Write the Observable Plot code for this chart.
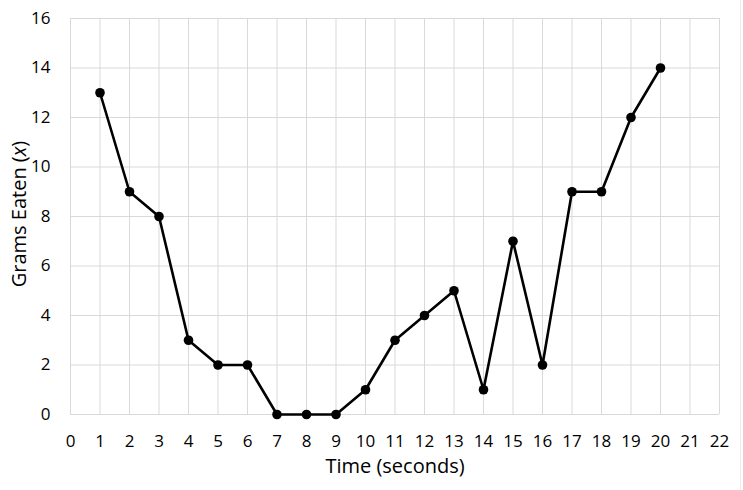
<!DOCTYPE html>
<html><head><meta charset="utf-8">
<script src="https://cdn.jsdelivr.net/npm/d3@7"></script>
<script src="https://cdn.jsdelivr.net/npm/@observablehq/plot@0.6"></script>
<style>
body{margin:0;background:#fff;}
#chart svg{font-family:"Open Sans",sans-serif;}
#chart svg g[aria-label$="tick label"]{font-size:17px;}
</style></head><body><div id="chart"></div>
<script>
const times = [1,2,3,4,5,6,7,8,9,10,11,12,13,14,15,16,17,18,19,20];
const grams = [13,9,8,3,2,2,0,0,0,1,3,4,5,1,7,2,9,9,12,14];
const xTicks = d3.range(0,23);
const yTicks = [0,2,4,6,8,10,12,14,16];
const data = times.map((t,i)=>({t, g: grams[i]}));

const plot = Plot.plot({
  width: 743, height: 490,
  marginLeft: 70, marginRight: 24, marginTop: 18, marginBottom: 76,
  style: {fontSize: "17px", fontFamily: "'Open Sans', sans-serif", color: "#000"},
  x: {domain: [0,22], ticks: xTicks, tickSize: 0, tickPadding: 20, label: null},
  y: {domain: [0,16], ticks: yTicks, tickSize: 0, tickPadding: 20, label: null},
  marks: [
    Plot.gridX(xTicks, {stroke: "#d9d9d9", strokeOpacity: 1, strokeWidth: 1}),
    Plot.gridY(yTicks, {stroke: "#d9d9d9", strokeOpacity: 1, strokeWidth: 1}),
    Plot.line(data, {x: "t", y: "g", stroke: "#000", strokeWidth: 2.6}),
    Plot.dot(data, {x: "t", y: "g", fill: "#000", r: 4.8})
  ]
});
document.getElementById("chart").appendChild(plot);
const svg = d3.select(plot);
svg.append("line").attr("x1",740.5).attr("x2",740.5).attr("y1",0).attr("y2",490)
  .attr("stroke","#ececec").attr("stroke-width",1);
svg.append("text").attr("x", 395).attr("y", 473).attr("text-anchor","middle")
  .style("font-size","20px").attr("fill","#000").text("Time (seconds)");
const yl = svg.append("text").attr("transform","translate(26,214) rotate(-90)")
  .attr("text-anchor","middle").style("font-size","20px").attr("fill","#000");
yl.append("tspan").text("Grams Eaten (");
yl.append("tspan").style("font-style","italic").text("x");
yl.append("tspan").text(")");
</script></body></html>
